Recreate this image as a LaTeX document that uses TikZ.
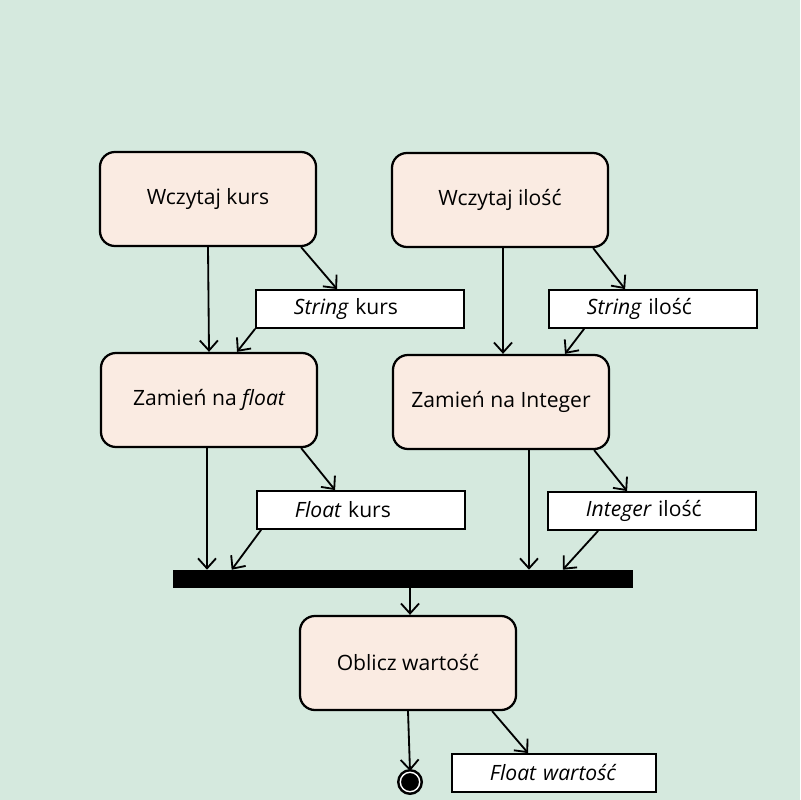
\documentclass[tikz,border=0pt]{standalone}
\usepackage{fontspec}
\setmainfont{Open Sans}
\usepackage{tikz}
\usetikzlibrary{arrows.meta, positioning}
\usepackage{xcolor}
\definecolor{bgmint}{HTML}{D5E9DE}
\definecolor{actfill}{HTML}{FAEBE2}

\begin{document}
\begin{tikzpicture}[
    x=0.025cm, y=-0.025cm,
    action/.style={rectangle, draw, line width=1.6pt, rounded corners=0.375cm, minimum width=5.4cm, minimum height=2.35cm, align=center, fill=actfill, font=\fontsize{15}{18}\selectfont},
    datanode/.style={rectangle, draw, line width=1.3pt, fill=white, text width=#1, align=left, inner xsep=0.95cm, minimum height=0.95cm, inner ysep=0pt, font=\fontsize{15}{18}\selectfont},
    datanode/.default=3.3cm,
    joinbar/.style={rectangle, fill=black, minimum width=11.5cm, minimum height=0.45cm, inner sep=0pt},
    finalnode/.style={circle, fill=black, draw=black, line width=1.8pt, double=white, double distance=1pt, minimum size=13.8pt, inner sep=0pt},
    arrow/.style={-{Straight Barb[length=0.25cm, width=0.45cm]}, line width=1.3pt}
]
\useasboundingbox[fill=bgmint] (0,0) rectangle (800,800);

% left column
\node[action] (wk) at (208,199) {Wczytaj kurs};
\node[datanode] (sk) at (360,309) {{\itshape String} kurs};
\node[action] (zf) at (209,400) {Zamień na {\itshape float}};
\node[datanode] (fk) at (361,510) {{\itshape Float} kurs};

% right column
\node[action] (wi) at (500,200) {Wczytaj ilość};
\node[datanode] (si) at (653,309) {{\itshape String} ilość};
\node[action] (zi) at (501,402) {Zamień na Integer};
\node[datanode] (ii) at (652,511) {{\itshape Integer} ilość};

% join and result
\node[joinbar] (bar) at (403,579) {};
\node[action] (ow) at (408,663) {Oblicz wartość};
\node[finalnode] (fin) at (410,782) {};
\node[datanode=3.2cm] (fw) at (554,773) {{\itshape Float wartość}};

\draw[arrow] (wk.south) -- (zf.north);
\draw[arrow] ([xshift=-0.4cm]wk.south east) -- ([xshift=2.05cm]sk.north west);
\draw[arrow] (sk.south west) -- ([xshift=0.7cm]zf.north);
\draw[arrow] ([xshift=0.075cm]wi.south) -- ([xshift=0.05cm]zi.north);
\draw[arrow] ([xshift=-0.4cm]wi.south east) -- ([xshift=1.925cm]si.north west);
\draw[arrow] ([xshift=0.9cm]si.south west) -- ([xshift=1.6cm]zi.north);

\draw[arrow] ([xshift=-0.05cm]zf.south) -- ([xshift=-0.05cm]zf.south |- bar.north);
\draw[arrow] ([xshift=-0.425cm]zf.south east) -- ([xshift=1.975cm]fk.north west);
\draw[arrow] ([xshift=0.125cm]fk.south west) -- ([xshift=1.475cm]bar.north west);
\draw[arrow] ([xshift=0.7cm]zi.south) -- ([xshift=0.7cm]zi.south |- bar.north);
\draw[arrow] ([xshift=-0.4cm]zi.south east) -- ([xshift=2cm]ii.north west);
\draw[arrow] ([xshift=1.275cm]ii.south west) -- ([xshift=9.75cm]bar.north west);

\draw[arrow] ([xshift=0.05cm]bar.south -| ow.north) -- ([xshift=0.05cm]ow.north);
\draw[arrow] (ow.south) -- (fin.north);
\draw[arrow] ([xshift=-0.625cm]ow.south east) -- ([xshift=1.925cm]fw.north west);
\end{tikzpicture}
\end{document}
